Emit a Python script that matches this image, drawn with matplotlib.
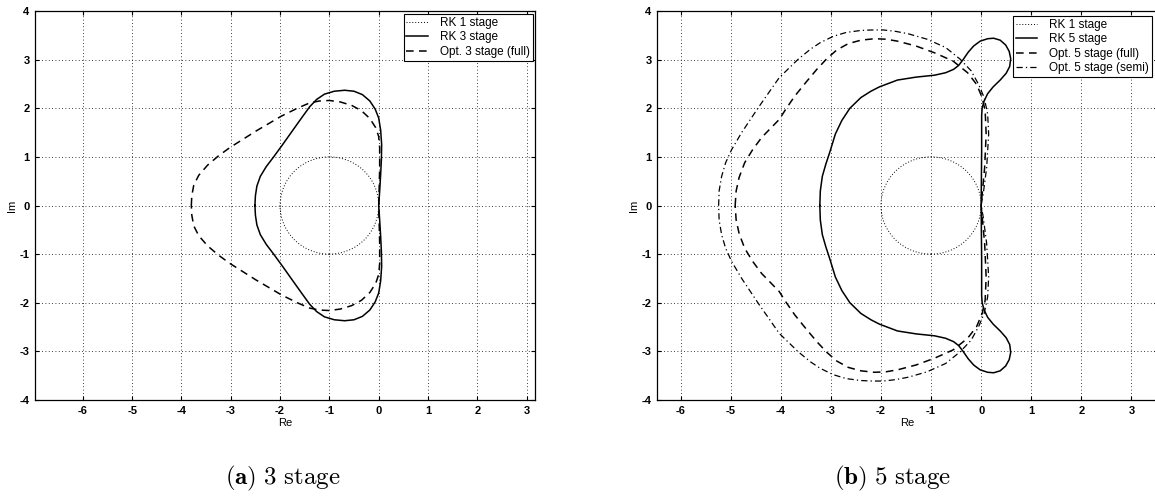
import numpy as np
import matplotlib
matplotlib.use("Agg")
import matplotlib.pyplot as plt
from matplotlib.patches import Circle
from matplotlib.lines import Line2D

plt.rcParams['font.family'] = ['Liberation Sans', 'DejaVu Sans']
plt.rcParams['mathtext.fontset'] = 'cm'
plt.rcParams['axes.unicode_minus'] = False

# RK 1 stage: unit circle around -1
rk1_center = (-1.0, 0.0)
rk1_radius = 1.0

# (a) upper halves of the boundaries (curves are symmetric in Im)
rk3_re = [-2.51, -2.50, -2.47, -2.40, -2.28, -2.13, -1.95, -1.74, -1.55, -1.40, -1.26,
          -1.10, -0.90, -0.69, -0.50, -0.33, -0.18, -0.07, 0.0, 0.04, 0.06, 0.055,
          0.04, 0.02, 0.0]
rk3_im = [0.0, 0.20, 0.40, 0.60, 0.80, 1.00, 1.25, 1.55, 1.82, 2.03, 2.18,
          2.29, 2.35, 2.37, 2.35, 2.28, 2.15, 1.98, 1.80, 1.55, 1.25, 0.95,
          0.64, 0.30, 0.0]

opt3_re = [-3.80, -3.79, -3.75, -3.65, -3.47, -3.25, -3.02, -2.49, -1.97, -1.65, -1.40,
           -1.20, -1.00, -0.78, -0.55, -0.35, -0.18, -0.06, 0.0, 0.02, 0.02, 0.01, 0.0]
opt3_im = [0.0, 0.20, 0.42, 0.62, 0.83, 1.02, 1.19, 1.53, 1.84, 2.00, 2.11,
           2.15, 2.16, 2.13, 2.06, 1.95, 1.79, 1.60, 1.42, 1.19, 0.78, 0.37, 0.0]

# (b)
rk5_re = [-3.22, -3.21, -3.17, -3.10, -3.02, -2.91, -2.78, -2.62, -2.40, -2.20, -2.03,
          -1.67, -1.30, -0.93, -0.71, -0.55, -0.45, -0.36, -0.26, -0.15, -0.02, 0.13,
          0.25, 0.38, 0.49, 0.56, 0.59, 0.57, 0.50, 0.38, 0.24, 0.13, 0.06, 0.02,
          0.01, 0.01, 0.0]
rk5_im = [0.0, 0.30, 0.60, 0.85, 1.10, 1.47, 1.75, 2.00, 2.22, 2.35, 2.44,
          2.58, 2.64, 2.68, 2.73, 2.80, 2.88, 3.00, 3.15, 3.28, 3.38, 3.43,
          3.44, 3.40, 3.30, 3.17, 3.02, 2.86, 2.72, 2.58, 2.44, 2.30, 2.15, 2.00,
          1.85, 1.12, 0.0]

opt5_full_re = [-4.91, -4.89, -4.83, -4.72, -4.56, -4.38, -4.20, -4.03, -3.90, -3.72,
                -3.50, -3.28, -3.08, -2.88, -2.65, -2.40, -2.13, -1.90, -1.67, -1.30,
                -0.93, -0.56, -0.27, -0.09, 0.02, 0.08, 0.10, 0.07, 0.02, 0.0]
opt5_full_im = [0.0, 0.30, 0.58, 0.88, 1.15, 1.40, 1.59, 1.77, 1.98, 2.25,
                2.53, 2.80, 3.02, 3.20, 3.33, 3.40, 3.43, 3.42, 3.38, 3.28,
                3.14, 2.97, 2.73, 2.49, 2.22, 1.95, 1.47, 0.78, 0.23, 0.0]

opt5_semi_re = [-5.24, -5.23, -5.18, -5.10, -4.98, -4.78, -4.45, -4.03, -3.65, -3.40,
                -3.21, -2.95, -2.69, -2.40, -2.18, -1.95, -1.70, -1.45, -1.08, -0.71,
                -0.42, -0.20, -0.05, 0.06, 0.13, 0.15, 0.11, 0.04, 0.0]
opt5_semi_im = [0.0, 0.30, 0.60, 0.88, 1.15, 1.50, 2.01, 2.63, 3.01, 3.22,
                3.35, 3.48, 3.56, 3.60, 3.61, 3.61, 3.58, 3.53, 3.42, 3.25,
                3.01, 2.77, 2.49, 2.22, 1.88, 1.47, 0.78, 0.23, 0.0]

xticks = list(range(-6, 4))
yticks = list(range(-4, 5))


def closed(re, im):
    # mirror the upper half to get the full boundary
    re = np.asarray(re)
    im = np.asarray(im)
    return np.concatenate([re, re[::-1]]), np.concatenate([im, -im[::-1]])


def style_axes(ax, xlim):
    ax.set_xlim(*xlim)
    ax.set_ylim(-4, 4)
    ax.set_xticks(xticks)
    ax.set_yticks(yticks)
    ax.tick_params(direction='in', length=3, width=0.8, top=True, right=True,
                   labelsize=8, pad=4)
    for lab in ax.get_xticklabels() + ax.get_yticklabels():
        lab.set_fontweight('bold')
    ax.grid(True, linestyle=(0, (1, 3)), color='black', linewidth=0.6)
    for sp in ax.spines.values():
        sp.set_linewidth(0.9)
    ax.set_xlabel('Re', fontsize=8, labelpad=2)
    ax.set_ylabel('Im', fontsize=8, labelpad=2)


def rk1(ax):
    ax.add_patch(Circle(rk1_center, rk1_radius, fill=False, linestyle=(0, (1, 2)),
                        linewidth=0.7, edgecolor='black'))
    return Line2D([], [], color='black', linestyle=(0, (1, 2)), linewidth=0.7)


def add_legend(ax, handles, labels, anchor, loc):
    leg = ax.legend(handles, labels, loc=loc, bbox_to_anchor=anchor, fontsize=8.5,
                    frameon=True, fancybox=False, edgecolor='black', framealpha=1,
                    handlelength=1.8, labelspacing=0.2, borderpad=0.25,
                    borderaxespad=0, handletextpad=1.0)
    leg.get_frame().set_linewidth(0.8)
    return leg


fig = plt.figure(figsize=(11.55, 4.99), dpi=100)
ax1 = fig.add_axes([35 / 1155, 99 / 499, 500 / 1155, 389 / 499])
ax2 = fig.add_axes([657 / 1155, 99 / 499, 501 / 1155, 389 / 499])

# (a) 3 stage
h1 = rk1(ax1)
h2, = ax1.plot(*closed(rk3_re, rk3_im), color='black', linewidth=1.1)
h3, = ax1.plot(*closed(opt3_re, opt3_im), color='black', linewidth=1.1,
               linestyle=(0, (5, 3.5)))
style_axes(ax1, (-6.97, 3.17))
add_legend(ax1, [h1, h2, h3], ['RK 1 stage', 'RK 3 stage', 'Opt. 3 stage (full)'],
           (0.995, 0.992), 'upper right')

# (b) 5 stage
g1 = rk1(ax2)
g2, = ax2.plot(*closed(rk5_re, rk5_im), color='black', linewidth=1.1)
g3, = ax2.plot(*closed(opt5_full_re, opt5_full_im), color='black', linewidth=1.1,
               linestyle=(0, (5, 3.5)))
g4, = ax2.plot(*closed(opt5_semi_re, opt5_semi_im), color='black', linewidth=0.9,
               linestyle=(0, (5, 2.5, 1, 2.5)))
style_axes(ax2, (-6.47, 3.53))
add_legend(ax2, [g1, g2, g3, g4],
           ['RK 1 stage', 'RK 5 stage', 'Opt. 5 stage (full)', 'Opt. 5 stage (semi)'],
           (0.711, 0.987), 'upper left')

fig.text(283 / 1155, 0.042, r'$\mathbf{(a)}\ \mathrm{3\ stage}$', ha='center',
         va='center', fontsize=18)
fig.text(893 / 1155, 0.042, r'$\mathbf{(b)}\ \mathrm{5\ stage}$', ha='center',
         va='center', fontsize=18)

fig.savefig('out.png', dpi=100)
